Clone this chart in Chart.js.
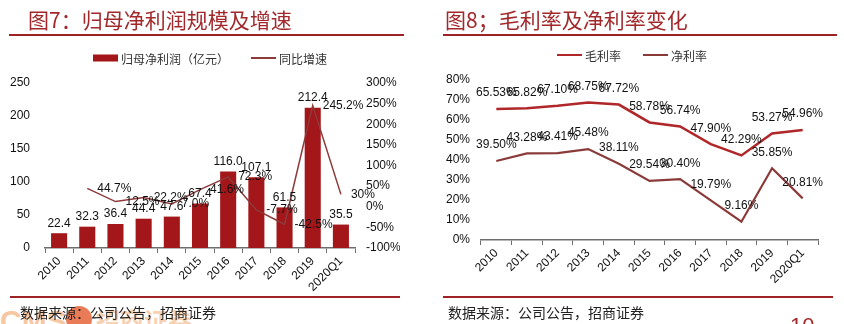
<!DOCTYPE html>
<html>
<head>
<meta charset="utf-8">
<script src="https://cdn.jsdelivr.net/npm/chart.js@4.4.0/dist/chart.umd.min.js"></script>
<style>
  html, body { margin:0; padding:0; background:#fff; width:844px; height:324px; overflow:hidden; }
  body { position:relative; font-family:'Noto Sans CJK SC', sans-serif; }
  .abs { position:absolute; }
  .title { font-size:21px; line-height:21px; color:#A2282B; white-space:nowrap; }
  .rule { background:#9E2327; }
  .foot { font-size:14px; line-height:16px; color:#222; white-space:nowrap; }
  canvas { position:absolute; top:0; }
</style>
</head>
<body>
<div class="abs" style="left:0;top:304px;font:bold 30px 'Liberation Sans',Arial;color:rgba(240,150,80,0.55);">CMS</div>
<div class="abs" style="left:66px;top:306px;width:26px;height:26px;border-radius:13px;background:rgba(225,80,30,0.75);"></div>
<div class="abs" style="left:96px;top:306px;font:bold 24px 'Noto Sans CJK SC';line-height:28px;color:rgba(240,150,80,0.45);">招商证券</div>

<canvas id="c1" width="420" height="324" style="left:0;width:420px;height:324px;"></canvas>
<canvas id="c2" width="424" height="324" style="left:420px;width:424px;height:324px;"></canvas>

<div class="abs title" style="left:28px;top:9px;">图7：归母净利润规模及增速</div>
<div class="abs rule" style="left:9px;top:34px;width:395px;height:2px;"></div>
<div class="abs title" style="left:445px;top:9px;">图8；毛利率及净利率变化</div>
<div class="abs rule" style="left:443px;top:34px;width:394px;height:2px;"></div>

<div class="abs rule" style="left:10px;top:296px;width:390px;height:1.5px;"></div>
<div class="abs rule" style="left:443px;top:296px;width:390px;height:1.5px;"></div>
<div class="abs foot" style="left:20px;top:304px;">数据来源：公司公告，招商证券</div>
<div class="abs foot" style="left:448px;top:304px;">数据来源：公司公告，招商证券</div>
<div class="abs" style="left:790px;top:313px;font:22px 'Liberation Sans',Arial;color:#A2282B;">10</div>

<script>
// ---------- data ----------
const categories = ['2010','2011','2012','2013','2014','2015','2016','2017','2018','2019','2020Q1'];
const netProfit  = [22.4, 32.3, 36.4, 44.4, 47.6, 67.4, 116.0, 107.1, 61.5, 212.4, 35.5];
const yoyGrowth  = [null, 44.7, 12.5, 22.2, 7.0, 41.6, 72.3, -7.7, -42.5, 245.2, 30];
const grossMargin = [65.53, 65.82, 67.10, 68.75, 67.72, 58.78, 56.74, 47.90, 42.29, 53.27, 54.96];
const netMargin   = [39.50, 43.28, 43.41, 45.48, 38.11, 29.54, 30.40, 19.79, 9.16, 35.85, 20.81];
const profitTicks = [0, 50, 100, 150, 200, 250];
const growthTicks = [-100, -50, 0, 50, 100, 150, 200, 250, 300];
const marginTicks = [0, 10, 20, 30, 40, 50, 60, 70, 80];
const legend1 = ['归母净利润（亿元）', '同比增速'];
const legend2 = ['毛利率', '净利率'];

// ---------- styles ----------
const BAR = '#A3161A';
const GROWTH = '#8C3A3A';
const GROSS = '#B0272A';
const NET = '#8B3A3A';
const TXT = '#111';
const AXIS = '#6e6e6e';
Chart.defaults.font.family = "'Liberation Sans', Arial, sans-serif";
Chart.defaults.font.size = 12;
Chart.defaults.color = TXT;
Chart.defaults.animation = false;

function fmtGrowth(v){ return (Number.isInteger(v) && v % 10 === 0) ? v + '%' : v.toFixed(1) + '%'; }

function legendPlugin(items, cy){
  return {
    id: 'customLegend',
    afterDraw(chart){
      const ctx = chart.ctx;
      ctx.save();
      ctx.font = "12px 'Noto Sans CJK SC', sans-serif";
      ctx.textBaseline = 'middle';
      const sw = 25, gap = 3, sep = 22;
      let total = 0;
      items.forEach((it,i) => { total += sw + gap + ctx.measureText(it.text).width + (i ? sep : 0); });
      let x = chart.width / 2 - total / 2;
      items.forEach((it,i) => {
        if (i) x += sep;
        if (it.kind === 'box') {
          ctx.fillStyle = it.color;
          ctx.fillRect(x, cy - 3.5, sw, 7);
        } else {
          ctx.strokeStyle = it.color; ctx.lineWidth = 2;
          ctx.beginPath(); ctx.moveTo(x, cy); ctx.lineTo(x + sw, cy); ctx.stroke();
        }
        x += sw + gap;
        ctx.fillStyle = '#333';
        ctx.textAlign = 'left';
        ctx.fillText(it.text, x, cy + 1);
        x += ctx.measureText(it.text).width;
      });
      ctx.restore();
    }
  };
}

const xAxisBase = {
  offset: true,
  grid: { display: true, drawOnChartArea: false, drawTicks: true, tickLength: 5, color: AXIS, offset: true, lineWidth: 1 },
  border: { display: true, color: AXIS, width: 1.5 },
  ticks: { minRotation: 45, maxRotation: 45, autoSkip: false, padding: 1, color: TXT, font: { size: 12 } },
  afterFit(s){ s.height = 50; }
};
const noGrid = { display: false, drawTicks: false, tickLength: 0 };

// ---------- chart 1 ----------
new Chart(document.getElementById('c1'), {
  data: {
    labels: categories,
    datasets: [
      { type: 'line', label: legend1[1], data: yoyGrowth, yAxisID: 'y1', borderColor: GROWTH, borderWidth: 1.5,
        pointRadius: 0, tension: 0, spanGaps: false, order: 0 },
      { type: 'bar', label: legend1[0], data: netProfit, yAxisID: 'y', backgroundColor: BAR,
        categoryPercentage: 1, barPercentage: 0.57, order: 1 }
    ]
  },
  options: {
    responsive: false,
    layout: { padding: { left: 10, right: 20, top: 83, bottom: 26 } },
    plugins: { legend: { display: false }, tooltip: { enabled: false } },
    scales: {
      x: xAxisBase,
      y: {
        position: 'left', min: 0, max: 250,
        afterBuildTicks(s){ s.ticks = profitTicks.map(v => ({ value: v })); },
        ticks: { padding: 15, color: TXT },
        grid: noGrid, border: { display: false },
        afterFit(s){ s.width = 35; }
      },
      y1: {
        position: 'right', min: -100, max: 300,
        afterBuildTicks(s){ s.ticks = growthTicks.map(v => ({ value: v })); },
        ticks: { padding: 11, color: TXT, callback: v => v + '%' },
        grid: noGrid, border: { display: false },
        afterFit(s){ s.width = 45; }
      }
    }
  },
  plugins: [
    legendPlugin([{ kind: 'box', color: BAR, text: legend1[0] }, { kind: 'line', color: GROWTH, text: legend1[1] }], 58),
    {
      id: 'labels1',
      afterDatasetsDraw(chart){
        const ctx = chart.ctx;
        ctx.save();
        ctx.font = "12px 'Liberation Sans', Arial";
        ctx.fillStyle = TXT;
        ctx.textBaseline = 'middle';
        const bars = chart.getDatasetMeta(1).data;
        ctx.textAlign = 'center';
        bars.forEach((b, i) => ctx.fillText(netProfit[i].toFixed(1), b.x, b.y - 10));
        const pts = chart.getDatasetMeta(0).data;
        ctx.textAlign = 'left';
        pts.forEach((p, i) => { if (yoyGrowth[i] !== null) ctx.fillText(fmtGrowth(yoyGrowth[i]), p.x + 10, p.y); });
        ctx.restore();
      }
    }
  ]
});

// ---------- chart 2 ----------
new Chart(document.getElementById('c2'), {
  type: 'line',
  data: {
    labels: categories,
    datasets: [
      { label: legend2[0], data: grossMargin, borderColor: GROSS, borderWidth: 2.5, pointRadius: 0, tension: 0 },
      { label: legend2[1], data: netMargin, borderColor: NET, borderWidth: 2.2, pointRadius: 0, tension: 0 }
    ]
  },
  options: {
    responsive: false,
    layout: { padding: { left: 21, right: 26, top: 80, bottom: 34 } },
    plugins: { legend: { display: false }, tooltip: { enabled: false } },
    scales: {
      x: xAxisBase,
      y: {
        min: 0, max: 80,
        afterBuildTicks(s){ s.ticks = marginTicks.map(v => ({ value: v })); },
        ticks: { padding: 11, color: TXT, callback: v => v + '%' },
        grid: noGrid, border: { display: false },
        afterFit(s){ s.width = 40; }
      }
    }
  },
  plugins: [
    legendPlugin([{ kind: 'line', color: GROSS, text: legend2[0] }, { kind: 'line', color: NET, text: legend2[1] }], 55),
    {
      id: 'labels2',
      afterDatasetsDraw(chart){
        const ctx = chart.ctx;
        ctx.save();
        ctx.font = "12px 'Liberation Sans', Arial";
        ctx.fillStyle = TXT;
        ctx.textBaseline = 'middle';
        ctx.textAlign = 'center';
        [grossMargin, netMargin].forEach((arr, d) => {
          chart.getDatasetMeta(d).data.forEach((p, i) => ctx.fillText(arr[i].toFixed(2) + '%', p.x, p.y - 16));
        });
        ctx.restore();
      }
    }
  ]
});
</script>
</body>
</html>
